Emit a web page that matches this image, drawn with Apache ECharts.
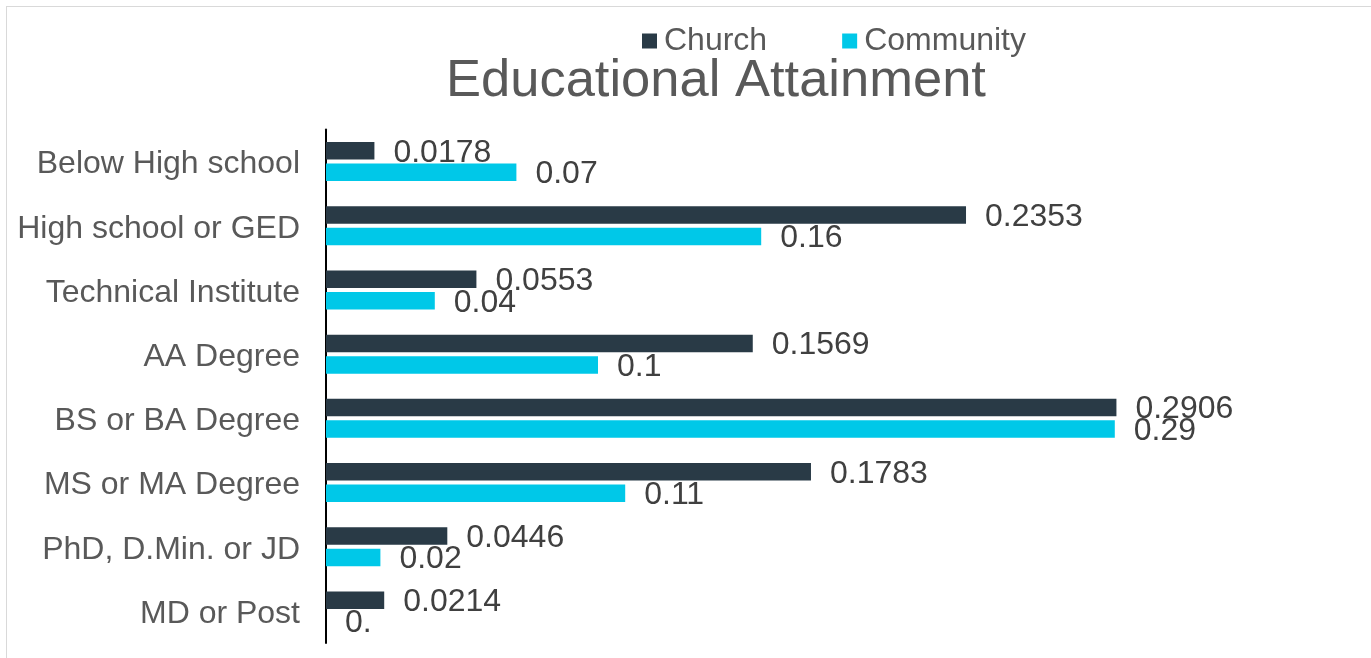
<!DOCTYPE html>
<html>
<head>
<meta charset="utf-8">
<script src="https://cdn.jsdelivr.net/npm/echarts@6/dist/echarts.min.js"></script>
<style>
  html, body { margin: 0; padding: 0; background: #fff; }
  #frame { position: absolute; left: 6px; top: 6px; right: 0; bottom: 0;
           border-top: 1px solid #d9d9d9; border-left: 1px solid #d9d9d9; }
  #chart { position: absolute; left: 0; top: 0; width: 1371px; height: 658px; }
</style>
</head>
<body>
<div id="frame"></div>
<div id="chart"></div>
<script>
// Education levels, top to bottom
const categories = [
  'Below High school',
  'High school or GED',
  'Technical Institute',
  'AA Degree',
  'BS or BA Degree',
  'MS or MA Degree',
  'PhD, D.Min. or JD',
  'MD or Post'
];
// Share of respondents at each level
const churchValues = [0.0178, 0.2353, 0.0553, 0.1569, 0.2906, 0.1783, 0.0446, 0.0214];
const communityValues = [0.07, 0.16, 0.04, 0.1, 0.29, 0.11, 0.02, 0];

const FONT = 'Liberation Sans, Arial, Helvetica, sans-serif';

const chart = echarts.init(document.getElementById('chart'), null, { renderer: 'canvas' });

const valueLabel = {
  show: true,
  position: 'right',
  distance: 19,
  offset: [0, 2],
  color: '#404040',
  fontFamily: FONT,
  fontSize: 32,
  formatter: p => (p.value === 0 ? '0.' : String(p.value))
};

chart.setOption({
  animation: false,
  backgroundColor: 'transparent',
  title: {
    text: 'Educational Attainment',
    left: 441,
    top: 50,
    textStyle: { color: '#595959', fontFamily: FONT, fontSize: 52.5, fontWeight: 'normal' }
  },
  legend: {
    top: 20,
    left: 637,
    itemWidth: 15,
    itemHeight: 15,
    itemGap: 75,
    icon: 'rect',
    textStyle: { color: '#595959', fontFamily: FONT, fontSize: 32, padding: [0, 0, 0, 2] },
    data: ['Church', 'Community']
  },
  grid: { left: 326, right: 93, top: 129.5, bottom: 15, containLabel: false },
  xAxis: {
    type: 'value',
    min: 0,
    max: 0.35,
    show: false
  },
  yAxis: {
    type: 'category',
    inverse: true,
    data: categories,
    axisLine: { show: true, lineStyle: { color: '#000', width: 2 } },
    axisTick: { show: false },
    axisLabel: {
      margin: 26,
      formatter: v => '{c|' + v + '}',
      rich: {
        c: { color: '#595959', fontFamily: FONT, fontSize: 32, padding: [6, 0, 0, 0] }
      }
    }
  },
  series: [
    {
      name: 'Church',
      type: 'bar',
      data: churchValues,
      barWidth: 17.5,
      barGap: '23%',
      itemStyle: { color: '#293A46' },
      label: valueLabel
    },
    {
      name: 'Community',
      type: 'bar',
      data: communityValues,
      barWidth: 17.5,
      itemStyle: { color: '#00C8E8' },
      label: valueLabel
    }
  ]
});
</script>
</body>
</html>
